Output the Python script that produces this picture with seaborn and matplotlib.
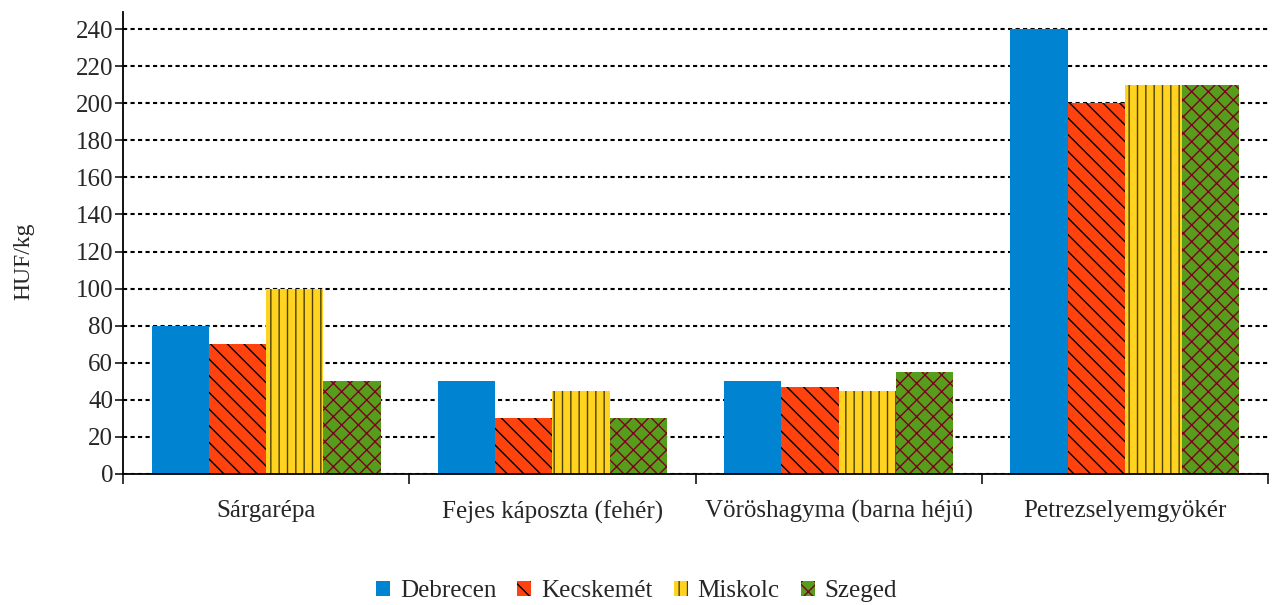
import matplotlib
matplotlib.use("Agg")
import matplotlib.pyplot as plt
import seaborn as sns
import pandas as pd
from matplotlib.patches import Patch

categories = ["Sárgarépa", "Fejes káposzta (fehér)", "Vöröshagyma (barna héjú)", "Petrezselyemgyökér"]
cities = ["Debrecen", "Kecskemét", "Miskolc", "Szeged"]
debrecen = [80, 50, 50, 240]
kecskemet = [70, 30, 47, 200]
miskolc = [100, 45, 45, 210]
szeged = [50, 30, 55, 210]
yticks = list(range(0, 241, 20))

colors = ["#0084d1", "#ff420e", "#ffd320", "#579d1c"]
hatches = [None, "\\\\", "||", "xx"]
hatch_colors = ["#0084d1", "#000000", "#4d4000", "#7e0021"]

rows = []
for city, vals in zip(cities, [debrecen, kecskemet, miskolc, szeged]):
    for cat, v in zip(categories, vals):
        rows.append({"cat": cat, "city": city, "val": v})
df = pd.DataFrame(rows)

sns.set_style("white")
plt.rcParams["font.family"] = ["Liberation Serif", "DejaVu Serif"]
plt.rcParams["hatch.linewidth"] = 1.0

FS = 18

fig = plt.figure(figsize=(12.73, 6.05), dpi=100)
ax = fig.add_axes([123 / 1273, 1 - 474 / 605, (1268 - 123) / 1273, (474 - 12) / 605])

sns.barplot(data=df, x="cat", y="val", hue="city", order=categories, hue_order=cities,
            palette=colors, width=0.8, gap=0, saturation=1, legend=False, ax=ax)

handles = []
for i, cont in enumerate(ax.containers):
    for p in cont:
        p.set_facecolor(colors[i])
        p.set_edgecolor(hatch_colors[i])
        p.set_linewidth(0)
        if hatches[i]:
            p.set_hatch(hatches[i])
    handles.append(Patch(facecolor=colors[i], edgecolor=hatch_colors[i], linewidth=0,
                         hatch=hatches[i], label=cities[i]))

ax.set_xlim(-0.5, 3.5)
ax.set_ylim(0, 249.2)
ax.set_yticks(yticks)
ax.set_yticklabels([str(t) for t in yticks], fontsize=FS)
ax.set_xticks([-0.5, 0.5, 1.5, 2.5, 3.5])
ax.set_xticklabels([])
ax.set_xticks(range(4), minor=True)
ax.set_xticklabels(categories, minor=True, fontsize=FS)
ax.tick_params(axis="x", which="minor", length=0, pad=19)
ax.tick_params(axis="x", which="major", length=7, width=1.3, direction="out", bottom=True)
ax.tick_params(axis="y", length=6, width=1.3, direction="out", left=True, pad=1)
ax.set_xlabel("")
ax.set_ylabel("HUF/kg", fontsize=17)
ax.yaxis.set_label_coords(-0.077, 0.46)

ax.set_axisbelow(True)
ax.yaxis.grid(True, color="black", linestyle=(0, (2.0, 1.6)), linewidth=1.5)
ax.xaxis.grid(False)
for s in ["top", "right"]:
    ax.spines[s].set_visible(False)
for s in ["left", "bottom"]:
    ax.spines[s].set_color("black")
    ax.spines[s].set_linewidth(1.3)

fig.legend(handles=handles, loc="center", bbox_to_anchor=(0.5, 1 - 591 / 605), ncol=4,
           frameon=False, fontsize=FS, handlelength=0.55, handleheight=0.55,
           handletextpad=0.4, columnspacing=0.85)

fig.savefig("out.png", dpi=100)
